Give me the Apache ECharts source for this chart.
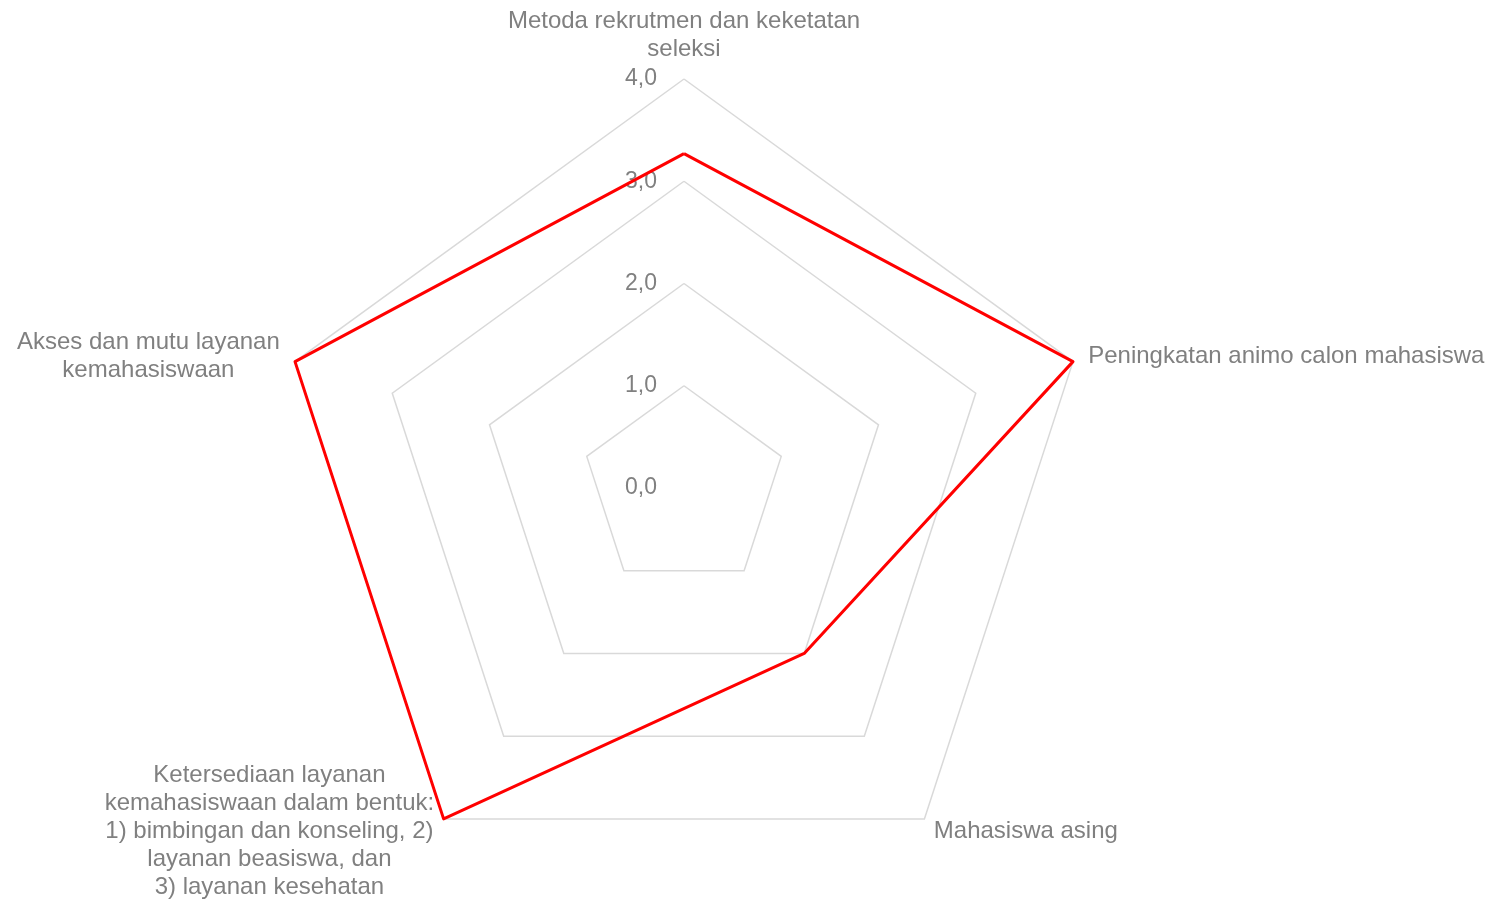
<!DOCTYPE html>
<html>
<head>
<meta charset="utf-8">
<script src="https://cdn.jsdelivr.net/npm/echarts@6/dist/echarts.min.js"></script>
<style>html,body{margin:0;padding:0;background:#fff}#c{width:1497px;height:902px}</style>
</head>
<body>
<div id="c"></div>
<script>
// Indicators listed counterclockwise starting from the top (ECharts radar order)
var categories = [
  'Metoda rekrutmen dan keketatan\nseleksi',
  'Akses dan mutu layanan\nkemahasiswaan',
  'Ketersediaan layanan\nkemahasiswaan dalam bentuk:\n1) bimbingan dan konseling, 2)\nlayanan beasiswa, dan\n3) layanan kesehatan',
  'Mahasiswa asing',
  'Peningkatan animo calon mahasiswa'
];
var values = [3.27, 4.0, 4.0, 2.0, 4.0];
var axisMin = 0, axisMax = 4, axisStep = 1;

var textColor = '#808080';
var fontFam = '"Liberation Sans", Arial, sans-serif';

var chart = echarts.init(document.getElementById('c'));
chart.setOption({
  animation: false,
  backgroundColor: '#ffffff',
  radar: {
    center: [684, 488],
    radius: 409,
    startAngle: 90,
    shape: 'polygon',
    splitNumber: (axisMax - axisMin) / axisStep,
    indicator: categories.map(function (n) { return { name: n, min: axisMin, max: axisMax }; }),
    axisName: {
      color: textColor,
      fontSize: 24,
      fontFamily: fontFam,
      lineHeight: 28,
      formatter: function (name) {
        return name.split('\n').map(function (l) { return '{c|' + l + '}'; }).join('\n');
      },
      rich: {
        c: { align: 'center', color: textColor, fontSize: 24, fontFamily: fontFam, lineHeight: 28 }
      }
    },
    nameGap: 16,
    axisLine: { show: false },
    axisTick: { show: false },
    axisLabel: { show: false },
    splitArea: { show: false },
    splitLine: { lineStyle: { color: '#d9d9d9', width: 1.5 } }
  },
  polar: { center: [684, 488], radius: 409 },
  angleAxis: { startAngle: 90, show: false, min: 0, max: 360 },
  radiusAxis: {
    min: axisMin, max: axisMax, interval: axisStep,
    axisLine: { show: false },
    axisTick: { show: false },
    splitLine: { show: false },
    axisLabel: {
      show: true,
      margin: 27,
      padding: [9, 0, 0, 0],
      color: textColor,
      fontSize: 23,
      fontFamily: fontFam,
      formatter: function (v) { return v.toFixed(1).replace('.', ','); }
    },
    z: 1
  },
  series: [{
    type: 'radar',
    z: 3,
    symbol: 'none',
    lineStyle: { color: '#ff0000', width: 3 },
    data: [{ value: values }]
  }]
});
</script>
</body>
</html>
